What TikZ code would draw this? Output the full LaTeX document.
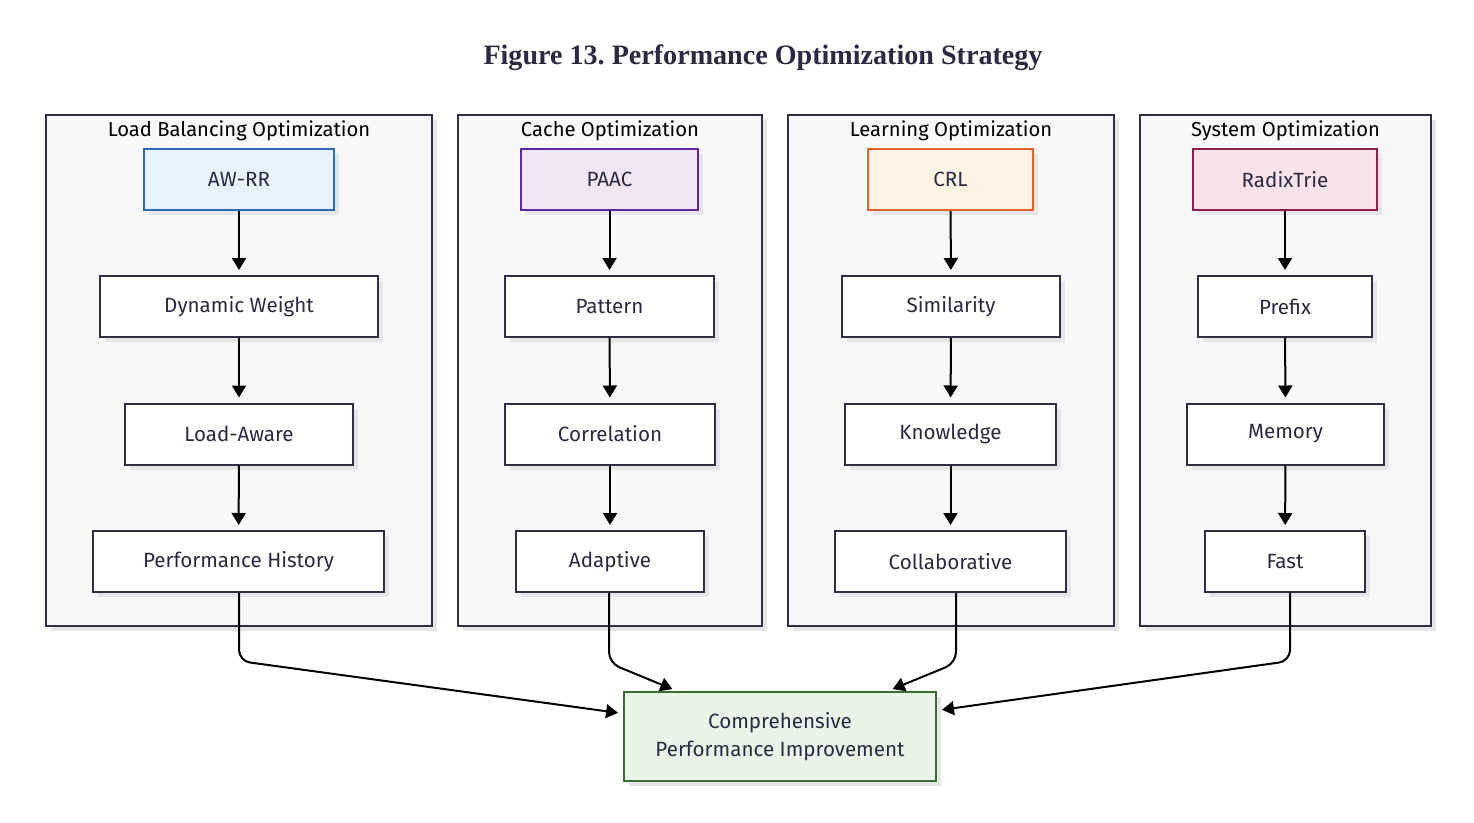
\documentclass[tikz,border=0pt]{standalone}
\usepackage{fontspec}
\setmainfont{Liberation Serif}
\newfontfamily\plex{Fira Sans}
\usetikzlibrary{arrows.meta,shadows}
\frenchspacing
\definecolor{txt}{HTML}{2A2A40}
\definecolor{edge}{HTML}{2E2E44}
\definecolor{clfill}{HTML}{F8F8FB}
\definecolor{shd}{HTML}{E6E6E9}
\definecolor{bluefill}{HTML}{E6F3FC}
\definecolor{blueline}{HTML}{2E6AAD}
\definecolor{purpfill}{HTML}{F2E6F4}
\definecolor{purpline}{HTML}{5A2A9A}
\definecolor{orfill}{HTML}{FDF3E3}
\definecolor{orline}{HTML}{E0622A}
\definecolor{pinkfill}{HTML}{F9E3EA}
\definecolor{pinkline}{HTML}{8A2050}
\definecolor{grfill}{HTML}{E8F4E8}
\definecolor{grline}{HTML}{3A6E35}
\tikzset{
  shad/.style={drop shadow={shadow xshift=5pt,shadow yshift=-5pt,fill=shd,opacity=1}},
  cluster/.style={draw=edge,line width=2pt,fill=clfill,shad,minimum height=511pt,inner sep=0pt},
  cltitle/.style={font=\plex\fontsize{20.2}{24}\selectfont,text=black,inner sep=0pt},
  box/.style={draw=edge,line width=2pt,fill=white,shad,minimum height=61pt,inner sep=0pt,font=\plex\fontsize{20.6}{24}\selectfont,text=txt},
  arr/.style={line width=2pt,black,-{Triangle[length=12pt,width=14pt]},shorten >=5pt},
  barr/.style={arr,rounded corners=11pt},
}
\begin{document}
\begin{tikzpicture}[x=1pt,y=-1pt]
\useasboundingbox (0,0) rectangle (1474,822);
\node[font=\bfseries\fontsize{28.1}{33}\selectfont,text=txt] (title) at (763,58) {Figure 13. Performance Optimization Strategy};
% clusters
\node[cluster,minimum width=386pt] (c1) at (239,370.5) {};
\node[cluster,minimum width=304pt] (c2) at (610,370.5) {};
\node[cluster,minimum width=326pt] (c3) at (951,370.5) {};
\node[cluster,minimum width=291pt] (c4) at (1285.5,370.5) {};
\node[cltitle] (t1) at (239,131) {Load Balancing Optimization};
\node[cltitle] (t2) at (610,131) {Cache Optimization};
\node[cltitle] (t3) at (951,131) {Learning Optimization};
\node[cltitle] (t4) at (1285.5,131) {System Optimization};
% column 1
\node[box,minimum width=190pt,fill=bluefill,draw=blueline] (awrr) at (239,179.5) {AW-RR};
\node[box,minimum width=278pt] (dw) at (239,306.5) {Dynamic Weight};
\node[box,minimum width=228pt] (la) at (239,434) {Load-Aware};
\node[box,minimum width=291pt] (ph) at (238.5,561.5) {Performance History};
% column 2
\node[box,minimum width=177pt,fill=purpfill,draw=purpline] (paac) at (609.5,179.5) {PAAC};
\node[box,minimum width=209pt] (pat) at (609.5,306.5) {Pattern};
\node[box,minimum width=210pt] (cor) at (610,434) {Correlation};
\node[box,minimum width=188pt] (ada) at (610,561.5) {Adaptive};
% column 3
\node[box,minimum width=165pt,fill=orfill,draw=orline] (crl) at (950.5,179.5) {CRL};
\node[box,minimum width=218pt] (sim) at (951,306.5) {Similarity};
\node[box,minimum width=211pt] (kno) at (950.5,434) {Knowledge};
\node[box,minimum width=231pt] (col) at (950.5,561.5) {Collaborative};
% column 4
\node[box,minimum width=184pt,fill=pinkfill,draw=pinkline] (rt) at (1285,179.5) {RadixTrie};
\node[box,minimum width=174pt] (pre) at (1285,306.5) {Prefix};
\node[box,minimum width=197pt] (mem) at (1285.5,434) {Memory};
\node[box,minimum width=160pt] (fast) at (1285,561.5) {Fast};
% final
\node[box,minimum width=312pt,minimum height=89pt,fill=grfill,draw=grline,align=center,font=\plex\fontsize{20.6}{28}\selectfont] (fin) at (780,736.5) {Comprehensive\\ Performance Improvement};
% vertical arrows
\foreach \a/\b in {awrr/dw,dw/la,la/ph,paac/pat,pat/cor,cor/ada,crl/sim,sim/kno,kno/col,rt/pre,pre/mem,mem/fast}
  \draw[arr] (\a) -- (\b);
% bottom arrows
\draw[barr] ([xshift=0.5pt]ph.south) -- ++(0,68) -- ([yshift=23pt]fin.west);
\draw[barr] ([xshift=-1pt]ada.south) -- ++(0,70) -- ([xshift=-103pt]fin.north);
\draw[barr] ([xshift=5.5pt]col.south) -- ++(0,70) -- ([xshift=108pt]fin.north);
\draw[barr] ([xshift=5pt]fast.south) -- ++(0,68) -- ([yshift=26pt]fin.east);
\end{tikzpicture}
\end{document}
